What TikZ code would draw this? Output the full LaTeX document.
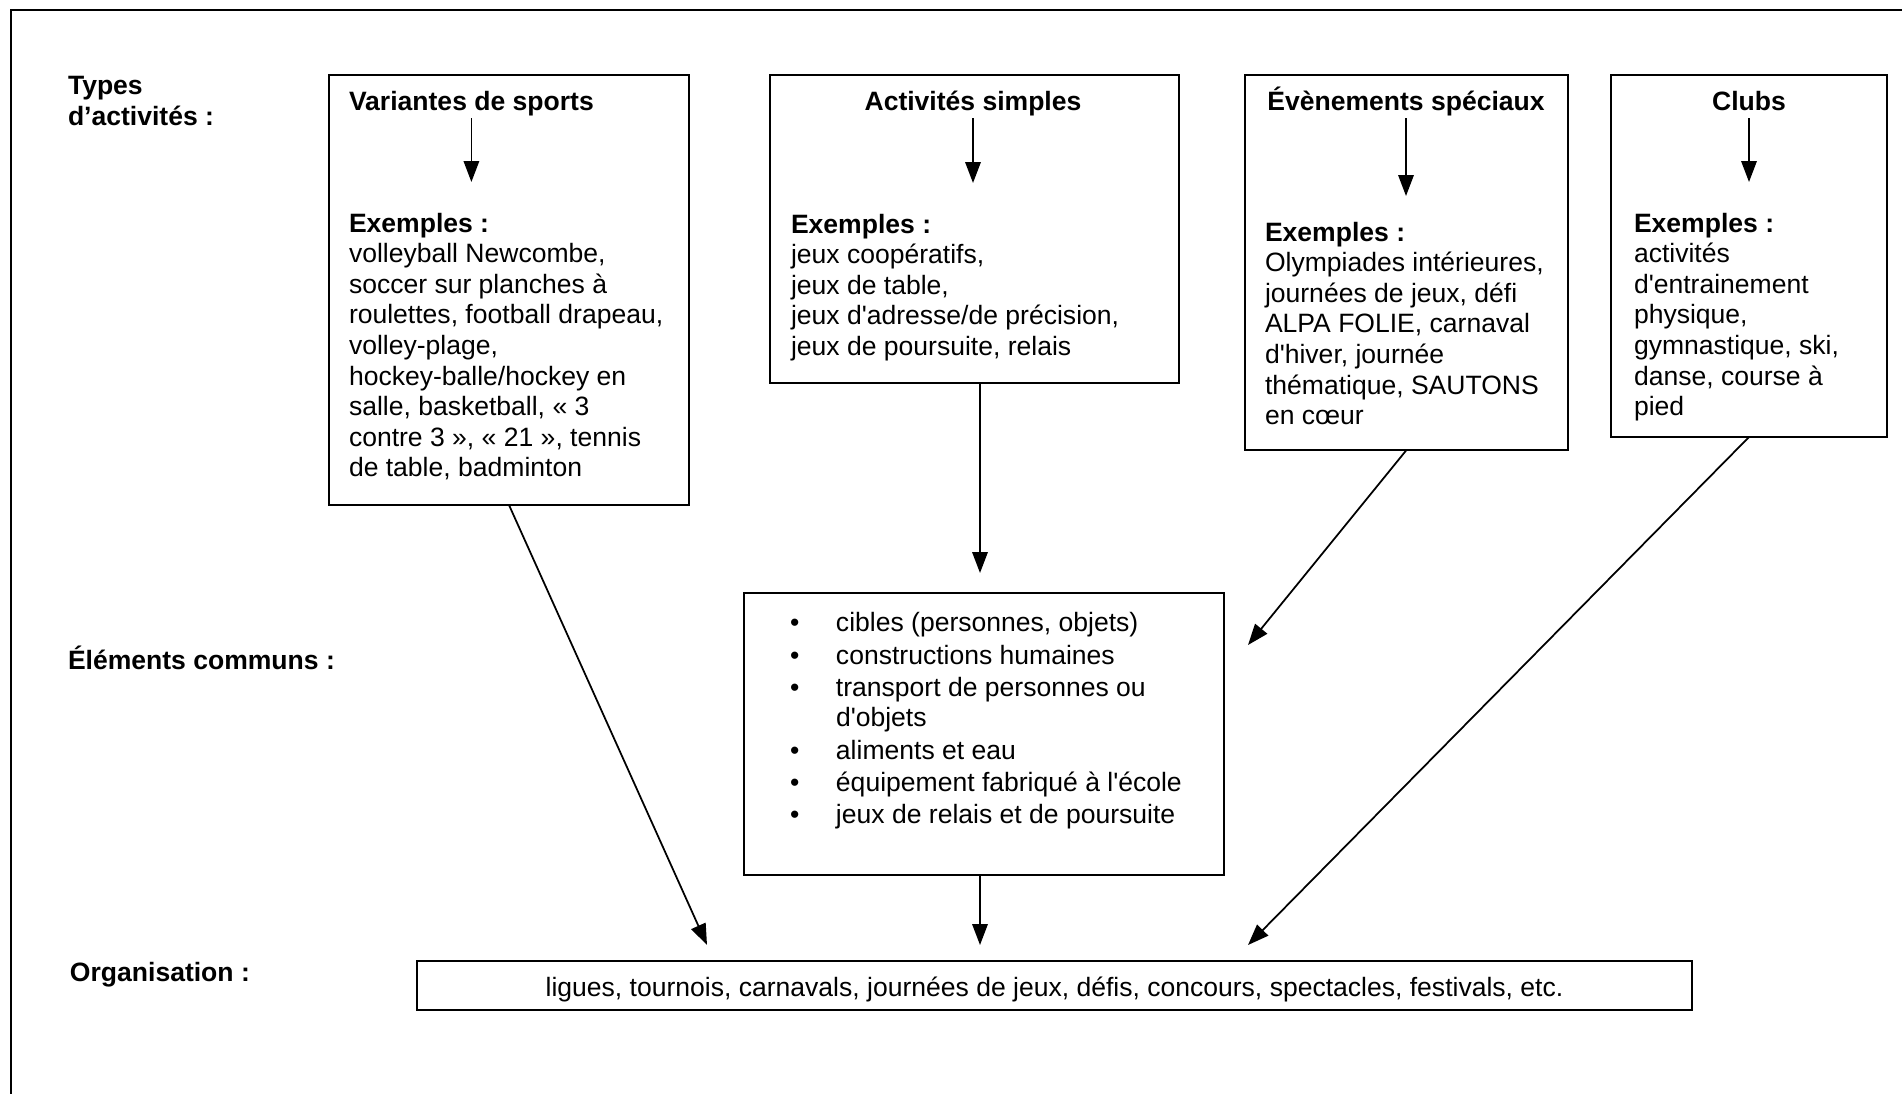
\documentclass[tikz,border=0pt]{standalone}
\usepackage{fontspec}
\setmainfont{Liberation Sans}
\usetikzlibrary{arrows.meta}
\newcommand{\apo}{\textquotesingle}
\newcommand{\puce}{\makebox[0.92cm][l]{\textbullet}}

\begin{document}
\begin{tikzpicture}[every node/.style={font=\fontsize{15.1pt}{17.4pt}\selectfont, inner sep=0pt, outer sep=0pt}, titre/.style={font=\fontsize{15.1pt}{17.4pt}\selectfont\bfseries}, boite/.style={draw, line width=1pt}, fleche/.style={-{Triangle[length=0.42cm, width=0.31cm]}, line width=1pt}, interne/.style={fleche, shorten <=0.15cm, shorten >=0.62cm}, line join=miter]

	\useasboundingbox (0, 0) rectangle (38.04, -21.88);

	% Cadre
	\draw[line width=1.1pt] (38.04, -0.2) -- (0.22, -0.2) -- (0.22, -21.88);

	% Etiquettes de gauche
	\node[titre, anchor=west, align=left] (lbltypes) at (1.36, -2.02) {Types\\d’activités :};
	\node[titre, anchor=west] (lblcommuns) at (1.36, -13.16) {Éléments communs :};
	\node[titre, anchor=west] (lblorga) at (1.40, -19.49) {Organisation :};

	% Types d'activites
	\node[boite, minimum width=7.2cm, minimum height=8.6cm] (b1) at (10.18, -5.8) {};
	\node[titre, anchor=base west] (t1) at (6.98, -2.21) {Variantes de sports};
	\node[anchor=north west, align=left] (e1) at (6.98, -4.26) {{\bfseries Exemples :}\\volleyball Newcombe,\\soccer sur planches à\\roulettes, football drapeau,\\volley-plage,\\hockey-balle/hockey en\\salle, basketball, « 3\\contre 3 », « 21 », tennis\\de table, badminton};
	\draw[interne] (t1.base) -- (t1.base |- e1.north);

	\node[boite, minimum width=8.18cm, minimum height=6.16cm] (b2) at (19.49, -4.58) {};
	\node[titre, anchor=base] (t2) at (19.46, -2.21) {Activités simples};
	\node[anchor=north west, align=left] (e2) at (15.82, -4.28) {{\bfseries Exemples :}\\jeux coopératifs,\\jeux de table,\\jeux d\apo adresse/de précision,\\jeux de poursuite, relais};
	\draw[interne] (t2.base) -- (t2.base |- e2.north);

	\node[boite, minimum width=6.46cm, minimum height=7.5cm] (b3) at (28.13, -5.25) {};
	\node[titre, anchor=base] (t3) at (28.12, -2.21) {Évènements spéciaux};
	\node[anchor=north west, align=left] (e3) at (25.3, -4.44) {{\bfseries Exemples :}\\Olympiades intérieures,\\journées de jeux, défi\\ALPA FOLIE, carnaval\\d\apo hiver, journée\\thématique, SAUTONS\\en cœur};
	\draw[interne, shorten >=0.52cm] (t3.base) -- (t3.base |- e3.north);

	\node[boite, minimum width=5.52cm, minimum height=7.24cm] (b4) at (34.98, -5.12) {};
	\node[titre, anchor=base] (t4) at (34.98, -2.21) {Clubs};
	\node[anchor=north west, align=left] (e4) at (32.68, -4.26) {{\bfseries Exemples :}\\activités\\d\apo entrainement\\physique,\\gymnastique, ski,\\danse, course à\\pied};
	\draw[interne] (t4.base) -- (t4.base |- e4.north);

	% Elements communs
	\node[boite, minimum width=9.6cm, minimum height=5.64cm] (m) at (19.68, -14.68) {};
	\node[anchor=north west, align=left] (liste) at (15.8, -12.25) {\puce cibles (personnes, objets)\\[1pt]\puce constructions humaines\\[1pt]\puce transport de personnes ou\\\hspace{0.92cm}d\apo objets\\[1pt]\puce aliments et eau\\[1pt]\puce équipement fabriqué à l\apo école\\[1pt]\puce jeux de relais et de poursuite};

	% Organisation
	\node[boite, minimum width=25.5cm, minimum height=0.98cm, text height=0.53cm, text depth=0.11cm] (o) at (21.09, -19.71) {ligues, tournois, carnavals, journées de jeux, défis, concours, spectacles, festivals, etc.};

	% Fleches
	\coordinate (c1) at (14.14, -18.9);
	\coordinate (c2) at (19.6, -11.46);
	\coordinate (c3) at (24.96, -12.9);
	\coordinate (c4) at (24.96, -18.9);
	\coordinate (c5) at (19.6, -18.9);
	\draw[fleche] (b1.south) -- (c1);
	\draw[fleche] (c2 |- b2.south) -- (c2);
	\draw[fleche] (b3.south) -- (c3);
	\draw[fleche] (b4.south) -- (c4);
	\draw[fleche] (c5 |- m.south) -- (c5);
\end{tikzpicture}
\end{document}
